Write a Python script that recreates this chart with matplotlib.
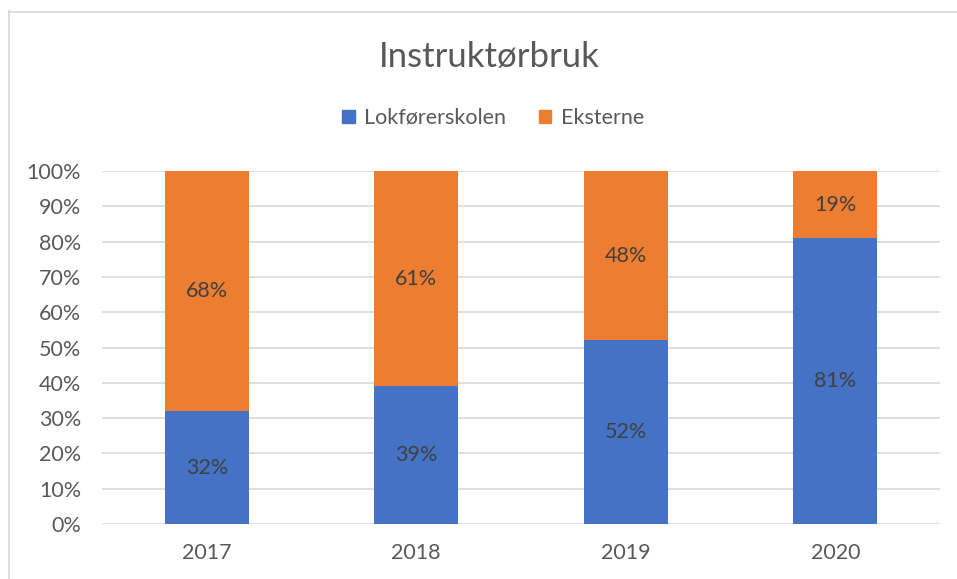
import matplotlib
matplotlib.use("Agg")
from matplotlib import pyplot as plt
from matplotlib.lines import Line2D
from matplotlib.patches import Patch

years = ["2017", "2018", "2019", "2020"]
lokforer = [32, 39, 52, 81]
eksterne = [68, 61, 48, 19]
series_names = ["Lokførerskolen", "Eksterne"]

blue = "#4472C4"
orange = "#ED7D31"
grey_text = "#595959"

plt.rcParams['font.family'] = ['Lato', 'DejaVu Sans']

W, H = 957, 579
fig = plt.figure(figsize=(W / 100, H / 100), dpi=100)
ax = fig.add_axes([102 / W, 1 - 524 / H, (940 - 102) / W, (524 - 171) / H])

x = range(len(years))
ax.bar(x, lokforer, width=0.4, color=blue, zorder=3)
ax.bar(x, eksterne, width=0.4, bottom=lokforer, color=orange, zorder=3)

# labels in the middle of each segment
for i in x:
    ax.text(i, lokforer[i] / 2, f"{lokforer[i]}%", ha="center", va="center",
            fontsize=15.5, color="#404040", zorder=4)
    ax.text(i, lokforer[i] + eksterne[i] / 2, f"{eksterne[i]}%", ha="center",
            va="center", fontsize=15.5, color="#404040", zorder=4)

ax.set_xlim(-0.5, 3.5)
ax.set_ylim(0, 100)
ax.set_yticks(range(0, 101, 10))
ax.set_yticklabels([f"{v}%" for v in range(0, 101, 10)])
ax.set_xticks(list(x))
ax.set_xticklabels(years)
ax.tick_params(length=0, labelsize=15.5, labelcolor=grey_text)
ax.tick_params(axis="y", pad=15)
ax.tick_params(axis="x", pad=14)
ax.grid(axis="y", color="#D9D9D9", linewidth=1.2, zorder=0)
for s in ax.spines.values():
    s.set_visible(False)

fig.text(489 / W, 1 - 57 / H, "Instruktørbruk", ha="center",
         va="center", fontsize=25, color=grey_text)

handles = [Patch(color=blue), Patch(color=orange)]
fig.legend(handles, series_names, loc="center", bbox_to_anchor=(493 / W, 1 - 118 / H),
           ncol=2, frameon=False, fontsize=15.5, labelcolor=grey_text,
           handlelength=0.6, handleheight=0.6, handletextpad=0.45, columnspacing=1.5)

# chart area outline (left and top edges visible)
fig.add_artist(Line2D([8.5 / W, 8.5 / W], [0, 1 - 11 / H], color="#D9D9D9", linewidth=1.2))
fig.add_artist(Line2D([8.5 / W, 1], [1 - 11.5 / H, 1 - 11.5 / H], color="#D9D9D9", linewidth=1.2))

fig.savefig("out.png", dpi=100)
